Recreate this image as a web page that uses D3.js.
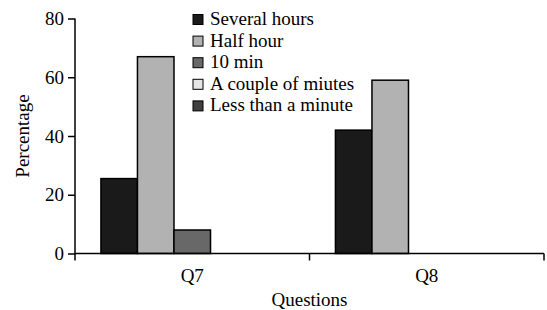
<!DOCTYPE html>
<html>
<head>
<meta charset="utf-8">
<script src="https://cdn.jsdelivr.net/npm/d3@7"></script>
<style>
body { margin: 0; background: #fff; }
svg text { font-family: "Liberation Serif", Tinos, "Times New Roman", "DejaVu Serif", serif !important; fill: #000; }
</style>
</head>
<body>
<div id="graphic"></div>
<script>
var questions = ["Q7", "Q8"];
var series = ["Several hours", "Half hour", "10 min", "A couple of miutes", "Less than a minute"];
var q7_values = [25.5, 67, 8, 0, 0];
var q8_values = [42, 59, 0, 0, 0];
var colors = ["#1a1a1a", "#b2b2b2", "#686868", "#e6e6e6", "#404040"];
var y_ticks = [0, 20, 40, 60, 80];

var values = [q7_values, q8_values];

var width = 547, height = 310;
var plot_left = 75, plot_right = 544, plot_top = 18.5, plot_bottom = 253.5;

var svg = d3.select("#graphic")
    .append("svg")
    .attr("width", width)
    .attr("height", height);

var x = d3.scaleBand().domain(questions).range([plot_left, plot_right]).paddingInner(0).paddingOuter(0);
var x_inner = d3.scaleBand().domain(series).range([0, x.bandwidth()]).paddingOuter(0.71);
var y = d3.scaleLinear().domain([0, 80]).range([plot_bottom, plot_top]);

// bars
var groups = svg.selectAll("g.group")
    .data(questions)
    .enter().append("g")
    .attr("class", "group")
    .attr("transform", function(d) { return "translate(" + x(d) + ",0)"; });

groups.selectAll("rect")
    .data(function(d, i) {
        return series.map(function(s, j) { return { s: s, v: values[i][j], c: colors[j] }; });
    })
    .enter().append("rect")
    .filter(function(d) { return d.v > 0; })
    .attr("x", function(d) { return x_inner(d.s); })
    .attr("y", function(d) { return y(d.v); })
    .attr("width", x_inner.bandwidth())
    .attr("height", function(d) { return y(0) - y(d.v); })
    .attr("fill", function(d) { return d.c; })
    .attr("stroke", "#000")
    .attr("stroke-width", 1.5);

// y axis
var yAxis = svg.append("g")
    .attr("transform", "translate(" + plot_left + ",0)")
    .call(d3.axisLeft(y).tickValues(y_ticks).tickSize(7).tickPadding(4));
yAxis.select(".domain").remove();
yAxis.selectAll("line").attr("stroke", "#000").attr("stroke-width", 1.5);
yAxis.selectAll("text").attr("font-size", 19);
svg.append("line")
    .attr("x1", plot_left).attr("x2", plot_left)
    .attr("y1", plot_top).attr("y2", plot_bottom + 7)
    .attr("stroke", "#000").attr("stroke-width", 1.5);

// x axis
var xAxis = svg.append("g")
    .attr("transform", "translate(0," + plot_bottom + ")")
    .call(d3.axisBottom(x).tickSize(0).tickPadding(15));
xAxis.select(".domain").remove();
xAxis.selectAll("text").attr("font-size", 19);
svg.append("line")
    .attr("x1", plot_left).attr("x2", plot_right)
    .attr("y1", plot_bottom).attr("y2", plot_bottom)
    .attr("stroke", "#000").attr("stroke-width", 1.5);
svg.selectAll("line.sep")
    .data(questions.slice(1).concat(["end"]))
    .enter().append("line")
    .attr("class", "sep")
    .attr("x1", function(d) { return d == "end" ? plot_right : x(d); })
    .attr("x2", function(d) { return d == "end" ? plot_right : x(d); })
    .attr("y1", plot_bottom).attr("y2", plot_bottom + 7)
    .attr("stroke", "#000").attr("stroke-width", 1.5);

// axis titles
svg.append("text")
    .attr("x", (plot_left + plot_right) / 2)
    .attr("y", 306)
    .attr("text-anchor", "middle")
    .attr("font-size", 19)
    .text("Questions");

svg.append("text")
    .attr("transform", "translate(29," + ((plot_top + plot_bottom) / 2) + ") rotate(-90)")
    .attr("text-anchor", "middle")
    .attr("font-size", 19)
    .text("Percentage");

// legend
var legend = svg.selectAll("g.legend")
    .data(series)
    .enter().append("g")
    .attr("class", "legend")
    .attr("transform", function(d, i) { return "translate(193," + (19.5 + i * 21.6) + ")"; });

legend.append("rect")
    .attr("x", 0).attr("y", -5)
    .attr("width", 10).attr("height", 10)
    .attr("fill", function(d, i) { return colors[i]; })
    .attr("stroke", "#000")
    .attr("stroke-width", 1);

legend.append("text")
    .attr("x", 17)
    .attr("y", 5.5)
    .attr("font-size", 19)
    .text(function(d) { return d; });
</script>
</body>
</html>
